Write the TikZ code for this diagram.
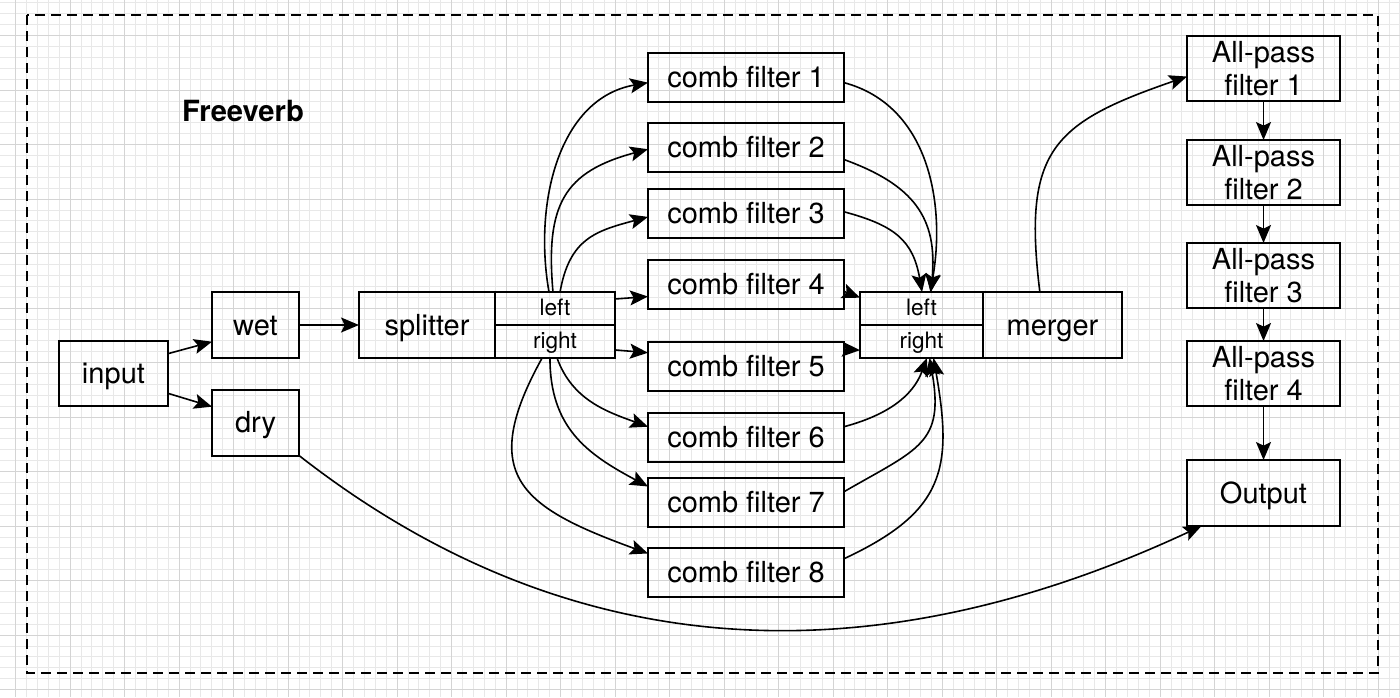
\documentclass[tikz,border=0pt]{standalone}
\usepackage{fontspec}
\setmainfont{TeX Gyre Heros}
\usepackage{tikz}
\usetikzlibrary{arrows.meta,positioning}

\begin{document}
\begin{tikzpicture}[
  x=0.5pt, y=0.5pt,
  font=\fontsize{14.5}{16.5}\selectfont,
  blk/.style   ={draw, line width=1pt, inner sep=0pt, outer sep=0pt, align=center, text height=11pt, text depth=1pt},
  io/.style    ={blk, minimum width=54.5pt, minimum height=32.5pt},
  path/.style  ={blk, minimum width=43.5pt, minimum height=33pt},
  comb/.style  ={blk, minimum width=98pt, minimum height=24.5pt},
  apf/.style   ={blk, minimum width=76.5pt, minimum height=32.5pt, text height=, text depth=},
  port/.style  ={blk, minimum width=60pt, minimum height=16.5pt, font=\fontsize{11.3}{13}\selectfont, text height=8.5pt, text depth=1.5pt},
  arr/.style   ={-{Stealth[length=9pt,width=7.5pt,inset=1.8pt]}, line width=0.8pt},
  frame/.style ={line width=1pt, dash pattern=on 4.8pt off 3.2pt},
  gridminor/.style={line width=0.35pt, black!9},
  gridmajor/.style={line width=0.5pt, black!17}
]
\useasboundingbox (0,0) rectangle (1400,-697);
\foreach \i in {0,...,127} \draw[gridminor] ({15.5+10.9*\i},0) -- ({15.5+10.9*\i},-697);
\foreach \j in {-3,...,60} \draw[gridminor] (0,{-35.5-10.9*\j}) -- (1400,{-35.5-10.9*\j});
\foreach \i in {0,...,25} \draw[gridmajor] ({15.5+54.5*\i},0) -- ({15.5+54.5*\i},-697);
\foreach \j in {0,...,12} \draw[gridmajor] (0,{-35.5-54.5*\j}) -- (1400,{-35.5-54.5*\j});
\draw[frame] (27,-15) rectangle (1378,-673);
\node[font=\fontsize{14.6}{17}\selectfont\bfseries] (title) at (243,-111) {Freeverb};
\node[io] (input) at (113.5,-373.5) {input};
\node[path] (wet) at (255.5,-325) {wet};
\node[path] (dry) at (255.5,-422.5) {dry};
\node[blk, minimum width=68pt, minimum height=33pt] (split) at (427,-325) {splitter};
\node[port, anchor=north west] (splitL) at (split.north east) {left};
\node[port, below=0pt of splitL] (splitR) {right};
\node[comb] (cf1) at (746,-77.5) {comb filter 1};
\node[comb] (cf2) at (746,-147.5) {comb filter 2};
\node[comb] (cf3) at (746,-213.5) {comb filter 3};
\node[comb] (cf4) at (746,-284.5) {comb filter 4};
\node[comb] (cf5) at (746,-366.5) {comb filter 5};
\node[comb] (cf6) at (746,-437) {comb filter 6};
\node[comb] (cf7) at (746,-502) {comb filter 7};
\node[comb] (cf8) at (746,-572.5) {comb filter 8};
\node[port, minimum width=61.5pt] (mergeL) at (921.5,-308.5) {left};
\node[port, minimum width=61.5pt, below=0pt of mergeL] (mergeR) {right};
\node[blk, minimum width=69.5pt, minimum height=33pt, anchor=north west] (merger) at (mergeL.north east) {merger};
\node[apf] (ap1) at (1263.5,-68.5) {All-pass\\filter 1};
\node[apf, below=19.5pt of ap1] (ap2) {All-pass\\filter 2};
\node[apf, below=19pt of ap2]   (ap3) {All-pass\\filter 3};
\node[apf, below=16.5pt of ap3] (ap4) {All-pass\\filter 4};
\node[apf, minimum height=33pt, text height=11pt, text depth=1pt, below=27pt of ap4] (output) {Output};
\draw[arr] (input.20) -- (wet.201); \draw[arr] (input.-20) -- (dry.160);
\draw[arr] (wet) -- (split);
\draw[arr] (splitL.9) -- (cf4.187); \draw[arr] (splitR.-8) -- (cf5.172);
\draw[arr] (splitL.110) to[out=100,in=190] (cf1.183);
\draw[arr] (splitL.97) to[out=95,in=195,looseness=1.3] (cf2.181);
\draw[arr] (splitL.73) to[out=80,in=195,looseness=1.2] (cf3.182);
\draw[arr] (splitR.-83) to[out=-70,in=160] (cf6.174);
\draw[arr] (splitR.-107) to[out=-90,in=152,looseness=1.1] (cf7.171);
\draw[arr] (splitR.-128) to[out=-119,in=160,looseness=1.55] (cf8.169);
\draw[arr] (cf4.-4) -- (mergeL.170); \draw[arr] (cf5.10) -- (mergeR.188);
\draw[arr] (cf1.-3) to[out=-15,in=80] (mergeL.62);
\draw[arr] (cf2.-7) to[out=-20,in=85,looseness=1.2] (mergeL.60);
\draw[arr] (cf3.1) to[out=-15,in=100,looseness=1.2] (mergeL.88);
\draw[arr] (cf6.6) to[out=15,in=-110] (mergeR.-72);
\draw[arr] (cf7.6) to[out=30,in=-80,looseness=1.4] (mergeR.-64);
\draw[arr] (cf8.8) to[out=25,in=-80,looseness=1.3] (mergeR.-54);
\draw[arr] (merger.111) to[out=97,in=199,looseness=1.4] (ap1.186);
\draw[arr] (ap1) -- (ap2); \draw[arr] (ap2) -- (ap3);
\draw[arr] (ap3) -- (ap4); \draw[arr] (ap4) -- (output);
\draw[arr] (dry.south east) to[out=-38,in=205] (output.-152);
\end{tikzpicture}
\end{document}
